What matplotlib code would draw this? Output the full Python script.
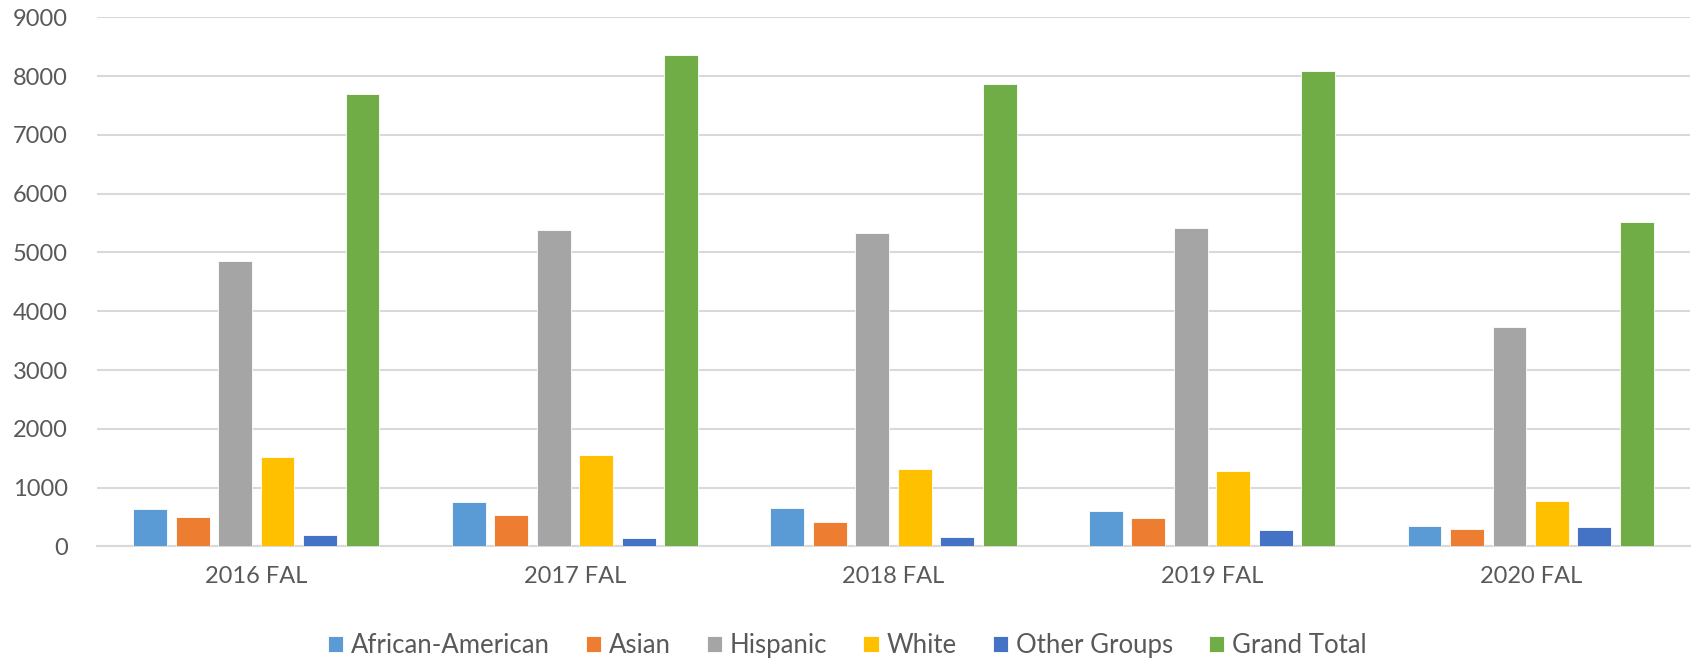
import numpy as np
import matplotlib
matplotlib.use("Agg")
import matplotlib.pyplot as plt

terms = ["2016 FAL", "2017 FAL", "2018 FAL", "2019 FAL", "2020 FAL"]
african_american = [645, 752, 660, 600, 355]
asian = [505, 540, 420, 478, 305]
hispanic = [4860, 5380, 5328, 5420, 3725]
white = [1515, 1560, 1322, 1285, 765]
other_groups = [198, 146, 160, 275, 332]
grand_total = [7700, 8360, 7858, 8085, 5510]

series = [
    ("African-American", african_american, "#5B9BD5"),
    ("Asian", asian, "#ED7D31"),
    ("Hispanic", hispanic, "#A5A5A5"),
    ("White", white, "#FFC000"),
    ("Other Groups", other_groups, "#4472C4"),
    ("Grand Total", grand_total, "#70AD47"),
]

plt.rcParams['font.family'] = ['Lato', 'DejaVu Sans']

fig = plt.figure(figsize=(16.94, 6.6), dpi=100)
ax = fig.add_axes([0.0573, 0.172, 0.9403, 0.8018])

x = np.arange(len(terms))
step = 0.8 / len(series)
width = 0.106
for i, (name, vals, color) in enumerate(series):
    offs = (i - (len(series) - 1) / 2) * step
    ax.bar(x + offs, vals, width, color=color, label=name,
           edgecolor="white", linewidth=0.6, zorder=3)

ax.set_xlim(-0.5, len(terms) - 0.5)
ax.set_ylim(0, 9000)
ax.set_yticks(range(0, 9001, 1000))
ax.yaxis.grid(True, color="#d9d9d9", linewidth=1.5, zorder=0)
ax.set_xticks(x)
ax.set_xticklabels(terms)
for side in ["top", "right", "left"]:
    ax.spines[side].set_visible(False)
ax.spines["bottom"].set_color("#d9d9d9")
ax.spines["bottom"].set_linewidth(1.5)
ax.tick_params(axis="both", length=0, labelsize=17, colors="#595959")
ax.tick_params(axis="y", pad=21)
ax.tick_params(axis="x", pad=14)

handles, labels = ax.get_legend_handles_labels()
leg = fig.legend(handles, labels, loc="center", bbox_to_anchor=(0.5, 0.022),
                 ncol=6, frameon=False, fontsize=18.5, handlelength=0.6,
                 handleheight=0.6, handletextpad=0.3, columnspacing=1.4)
for t in leg.get_texts():
    t.set_color("#595959")

fig.savefig("out.png", dpi=100)
